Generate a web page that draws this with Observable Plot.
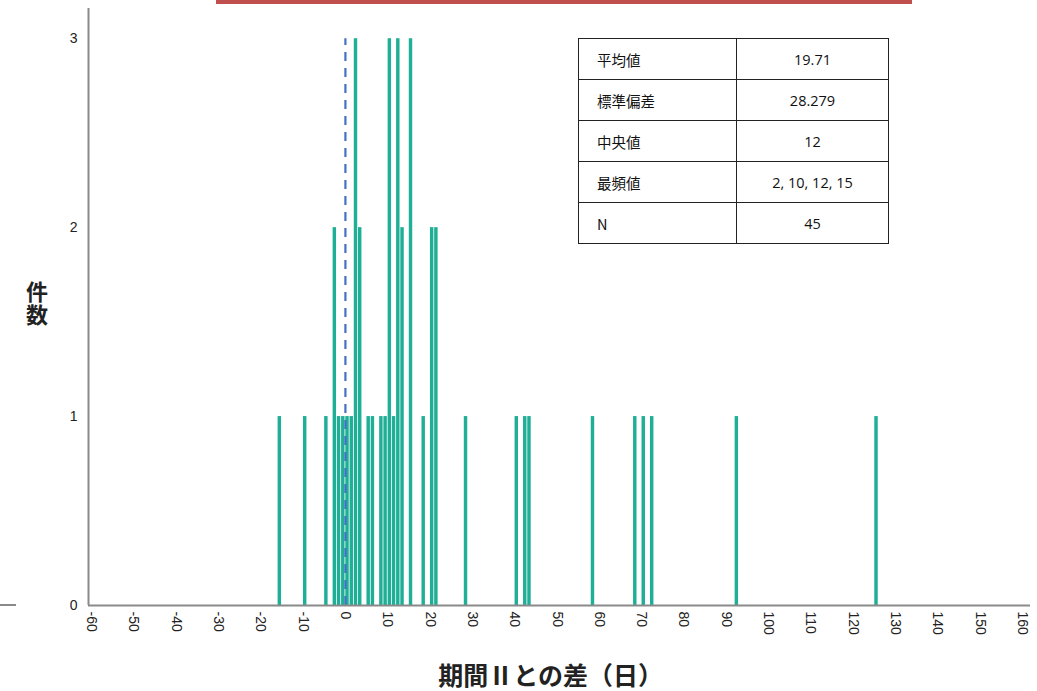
<!DOCTYPE html>
<html><head><meta charset="utf-8">
<script src="https://cdn.jsdelivr.net/npm/d3@7"></script>
<script src="https://cdn.jsdelivr.net/npm/@observablehq/plot@0.6"></script>
<style>
body{margin:0;background:#fff;}
#wrap{position:relative;width:1037px;height:691px;overflow:hidden;background:#fff;}
#wrap svg{position:absolute;left:0;top:0;}
#redbar{position:absolute;left:216px;top:0;width:696px;height:4px;background:#c0504d;}
#stray{position:absolute;left:0;top:604px;width:16px;height:2px;background:#8a8a8a;}
#ylab{position:absolute;left:23px;top:281px;width:28px;writing-mode:vertical-rl;text-orientation:upright;
  font-family:"Noto Sans CJK JP",sans-serif;font-weight:bold;font-size:22px;line-height:28px;color:#222;letter-spacing:1px;}
#stats{position:absolute;left:578px;top:38px;width:311px;height:204px;border-collapse:collapse;
  font-family:"Open Sans","Noto Sans CJK JP",sans-serif;font-size:14.5px;color:#111;}
#stats td{border:1px solid #222;height:40px;padding:0;}
#stats td.k{width:158px;padding-left:18px;box-sizing:border-box;text-align:left;font-family:"Noto Sans CJK JP","Open Sans",sans-serif;}
#stats td.v{text-align:center;}
</style></head><body><div id="wrap"></div>
<script>
// data
const diffDays = [-16,-10,-5,-3,-2,-1,0,1,2,3,5,6,8,9,10,11,12,13,15,18,20,21,28,40,42,43,58,68,70,72,92,125];
const counts   = [1,1,1,2,1,1,1,1,3,2,1,1,1,1,3,1,3,2,3,1,2,2,1,1,1,1,1,1,1,1,1,1];
const xTicks = d3.range(-60, 161, 10);
const yTicks = [0, 1, 2, 3];
const refLine = [0];
const statLabels = ["平均値", "標準偏差", "中央値", "最頻値", "N"];
const statValues = ["19.71", "28.279", "12", "2, 10, 12, 15", "45"];
const xLabel = "期間Ⅱとの差（日）";
const yLabel = "件数";

const bars = diffDays.map((v, i) => ({v, c: counts[i]}));
const xDomain = [-60.71, 161.89];

const chart = Plot.plot({
  width: 1037, height: 691,
  marginLeft: 88, marginRight: 7, marginTop: 8, marginBottom: 86,
  style: {fontFamily: "'Liberation Sans', Arial, sans-serif", fontSize: "14px", color: "#222", background: "transparent"},
  x: {domain: xDomain, axis: null},
  y: {domain: [0, 3.16], axis: null},
  marks: [
    Plot.rectY(bars, {x1: d => d.v, x2: d => d.v + 1, y1: 0, y2: "c", fill: "#1fae96", insetLeft: 0.4, insetRight: 0.4}),
    Plot.ruleX(refLine, {y1: 0, y2: 3, stroke: "#4472c4", strokeWidth: 2.2, strokeDasharray: "9,7"}),
    Plot.ruleY([0], {stroke: "#8a8a8a", strokeWidth: 2}),
    Plot.ruleX([xDomain[0]], {stroke: "#8a8a8a", strokeWidth: 2}),
    Plot.axisX({ticks: xTicks, tickSize: 0, tickPadding: 6, tickRotate: 90, tickFormat: d => String(d), label: null, fontSize: 14}),
    Plot.axisY({ticks: yTicks, tickSize: 0, tickPadding: 11, tickFormat: d => String(d), label: null, fontSize: 14}),
    Plot.text([xLabel], {frameAnchor: "bottom", dy: 79, dx: -9, text: d => d, fontSize: 25, fontWeight: "bold", fill: "#222", fontFamily: "'Noto Sans CJK JP', sans-serif", letterSpacing: "0.5px"})
  ]
});

const wrap = document.getElementById("wrap");
wrap.appendChild(chart);

const red = document.createElement("div"); red.id = "redbar"; wrap.appendChild(red);
const stray = document.createElement("div"); stray.id = "stray"; wrap.appendChild(stray);

const ylab = document.createElement("div"); ylab.id = "ylab"; ylab.textContent = yLabel; wrap.appendChild(ylab);

const table = document.createElement("table"); table.id = "stats";
statLabels.forEach((k, i) => {
  const tr = document.createElement("tr");
  const a = document.createElement("td"); a.className = "k"; a.textContent = k;
  const b = document.createElement("td"); b.className = "v"; b.textContent = statValues[i];
  tr.appendChild(a); tr.appendChild(b); table.appendChild(tr);
});
wrap.appendChild(table);
</script>
</body></html>
